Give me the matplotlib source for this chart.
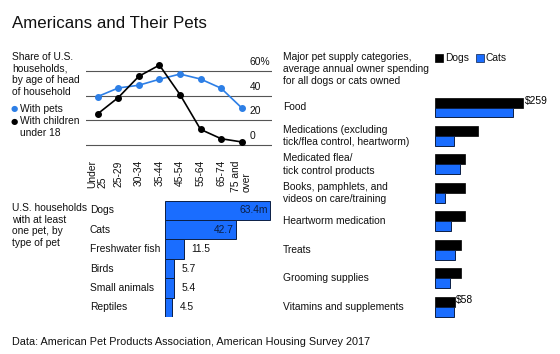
import numpy as np
import matplotlib
matplotlib.use("Agg")
import matplotlib.pyplot as plt

plt.rcParams["font.family"] = ["Liberation Sans", "DejaVu Sans"]

# age of head of household vs share of households (%)
age_groups = ["Under\n25", "25-29", "30-34", "35-44", "45-54", "55-64", "65-74", "75 and\nover"]
with_pets = [39.2, 46.1, 48.3, 53.1, 57.3, 53.3, 45.9, 30.1]
with_children = [25.3, 38.4, 55.5, 64.5, 40.8, 12.8, 5.3, 2.7]
y_ticks = [0, 20, 40, 60]

# households with at least one pet (millions)
pet_types = ["Dogs", "Cats", "Freshwater fish", "Birds", "Small animals", "Reptiles"]
households = [63.4, 42.7, 11.5, 5.7, 5.4, 4.5]
household_labels = ["63.4m", "42.7", "11.5", "5.7", "5.4", "4.5"]

# average annual owner spending ($)
categories = [
    "Food",
    "Medications (excluding\ntick/flea control, heartworm)",
    "Medicated flea/\ntick control products",
    "Books, pamphlets, and\nvideos on care/training",
    "Heartworm medication",
    "Treats",
    "Grooming supplies",
    "Vitamins and supplements",
]
dogs_spend = [259, 126, 87, 88, 88, 77, 75, 58]
cats_spend = [228, 55, 73, 28, 46, 60, 45, 56]

BLUE = "#1a6dff"
LINE_BLUE = "#2d7fe6"
EDGE = "#0b1f45"
W, H = 560, 354
FS = 7.4


def fax(x0, y0, x1, y1):
    # axes from pixel box (top-left origin)
    return fig.add_axes([x0 / W, 1 - y1 / H, (x1 - x0) / W, (y1 - y0) / H])


def ftext(x, y, s, **kw):
    kw.setdefault("fontsize", FS)
    kw.setdefault("va", "center")
    kw.setdefault("color", "#111111")
    return fig.text(x / W, 1 - y / H, s, **kw)


fig = plt.figure(figsize=(W / 100, H / 100), dpi=100)

ftext(12, 23, "Americans and Their Pets", fontsize=12.2)
ftext(12, 342, "Data: American Pet Products Association, American Housing Survey 2017", fontsize=7.8)

# ---- line chart ----
ftext(12, 74.5, "Share of U.S.\nhouseholds,\nby age of head\nof household", linespacing=1.22)
fig.text(14 / W, 1 - 109 / H, "●", fontsize=6, color=LINE_BLUE, va="center", ha="center", family="DejaVu Sans")
ftext(20, 109, "With pets")
fig.text(14 / W, 1 - 121.5 / H, "●", fontsize=6, color="black", va="center", ha="center", family="DejaVu Sans")
ftext(20, 127, "With children\nunder 18", linespacing=1.22)

ax = fax(86, 55, 272, 150)
px_per_unit = (145.3 - 70.7) / 60
ax.set_ylim(-(150 - 145.3) / px_per_unit, 60 + (70.7 - 55) / px_per_unit)
ax.set_xlim((86 - 97.7) / 20.57, (272 - 97.7) / 20.57)
for v in y_ticks:
    ax.axhline(v, color="#555555", lw=0.8, zorder=1)
    lab = f"{v}%" if v == 60 else str(v)
    ax.text((250 - 97.7) / 20.57, v + 4 / px_per_unit, lab, fontsize=FS, color="#111111",
            ha="left", va="bottom")
x = np.arange(len(age_groups))
ax.plot(x, with_pets, color=LINE_BLUE, lw=1.2, marker="o", ms=4, zorder=3, clip_on=False)
ax.plot(x, with_children, color="black", lw=1.2, marker="o", ms=4, zorder=4, clip_on=False)
ax.axis("off")
for i, lab in enumerate(age_groups):
    ax.text(i, -12, lab, rotation=90, fontsize=FS, ha="center", va="top",
            linespacing=1.05, color="#111111", multialignment="left")

# ---- households bar chart ----
ftext(12, 225.5, "U.S. households\nwith at least\none pet, by\ntype of pet", linespacing=1.22)
bx = fax(165, 200.7, 280, 317)
bx.set_xlim(0, 115 / (105 / 63.4))
bx.set_ylim(len(pet_types) - 0.5, -0.5)
yy = np.arange(len(pet_types))
bx.barh(yy, households, height=1.0, color=BLUE, edgecolor=EDGE, lw=0.7)
bx.axis("off")
for i, (name, v, lab) in enumerate(zip(pet_types, households, household_labels)):
    ftext(90, 200.7 + 19.4 * (i + 0.5), name)
    if v > 30:
        bx.text(v - 1.2, i, lab, fontsize=FS, color=EDGE, ha="right", va="center")
    else:
        bx.text(v + 4.5, i, lab, fontsize=FS, color="#111111", ha="left", va="center")

# ---- spending bar chart ----
ftext(283, 69, "Major pet supply categories,\naverage annual owner spending\nfor all dogs or cats owned",
      linespacing=1.22)
fig.patches.append(plt.Rectangle((435 / W, 1 - 62 / H), 8 / W, 8 / H, transform=fig.transFigure,
                                 facecolor="black", edgecolor="black", lw=0.5))
ftext(445, 58, "Dogs")
fig.patches.append(plt.Rectangle((476 / W, 1 - 62 / H), 8 / W, 8 / H, transform=fig.transFigure,
                                 facecolor=BLUE, edgecolor=EDGE, lw=0.5))
ftext(486, 58, "Cats")

sx = fax(435, 93.3, 550, 320.9)
sx.set_xlim(0, 115 / (88.3 / 259))
sx.set_ylim(len(categories) - 0.5, -0.5)
rows = np.arange(len(categories))
bh = 0.35
sx.barh(rows - bh, dogs_spend, height=bh, align="edge", color="black", edgecolor="black", lw=0.5)
sx.barh(rows, cats_spend, height=bh, align="edge", color=BLUE, edgecolor=EDGE, lw=0.7)
sx.axis("off")
for i, name in enumerate(categories):
    ftext(283, 107.5 + 28.45 * i, name, linespacing=1.3)
sx.text(dogs_spend[0] + 4, -bh / 2 - 0.05, f"${dogs_spend[0]}", fontsize=FS, ha="left", va="center")
sx.text(dogs_spend[-1] + 4, len(categories) - 1 - bh / 2 - 0.05, f"${dogs_spend[-1]}",
        fontsize=FS, ha="left", va="center")

fig.savefig("out.png", dpi=100)
